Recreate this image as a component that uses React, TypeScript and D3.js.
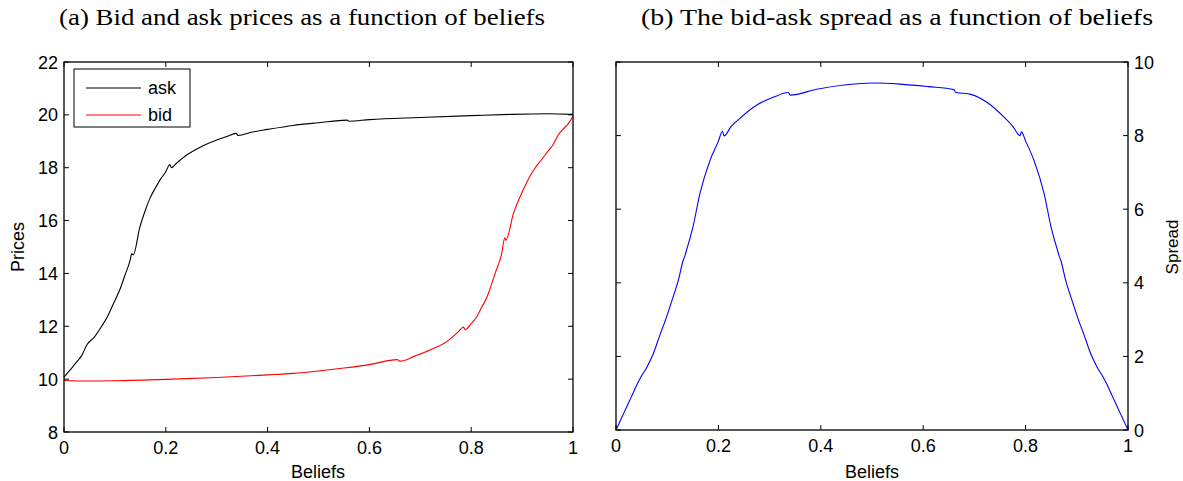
import React from "react";
import * as d3 from "d3";

const askBeliefs = [0,0.012,0.025,0.035,0.045,0.06,0.074,0.085,0.097,0.11,0.12,0.13,0.133,0.136,0.149,0.16,0.169,0.18,0.189,0.2,0.208,0.211,0.22,0.241,0.27,0.3,0.32,0.338,0.342,0.37,0.4,0.45,0.5,0.556,0.56,0.6,0.7,0.8,0.88,0.95,1.0];
const askValues = [10.08,10.35,10.65,10.9,11.3,11.6,12.0,12.35,12.85,13.4,13.95,14.5,14.75,14.7,15.75,16.4,16.85,17.25,17.55,17.85,18.12,18.0,18.15,18.48,18.8,19.05,19.18,19.3,19.22,19.35,19.45,19.6,19.7,19.8,19.76,19.82,19.9,19.97,20.02,20.04,20.02];

const bidBeliefs = [0,0.05,0.1,0.2,0.3,0.4,0.45,0.5,0.55,0.6,0.655,0.66,0.69,0.719,0.752,0.775,0.785,0.788,0.8,0.811,0.82,0.83,0.847,0.86,0.866,0.868,0.883,0.902,0.925,0.94,0.955,0.96,0.971,0.98,0.99,1.0];
const bidValues = [9.95,9.93,9.94,9.99,10.06,10.16,10.22,10.31,10.42,10.55,10.74,10.68,10.88,11.1,11.42,11.8,11.97,11.87,12.1,12.36,12.7,13.06,14.0,14.76,15.35,15.25,16.27,17.16,17.98,18.35,18.73,18.85,19.24,19.45,19.65,19.95];

const spreadBeliefs = [0,0.01,0.021,0.03,0.038,0.047,0.06,0.073,0.085,0.099,0.11,0.122,0.131,0.135,0.137,0.15,0.164,0.184,0.2,0.208,0.211,0.225,0.242,0.275,0.307,0.337,0.34,0.392,0.45,0.5,0.555,0.61,0.66,0.663,0.693,0.725,0.758,0.775,0.789,0.792,0.8,0.816,0.836,0.85,0.863,0.865,0.869,0.878,0.89,0.901,0.915,0.927,0.94,0.953,0.962,0.97,0.979,0.99,1];
const spreadValues = [0,0.3,0.63,0.9,1.15,1.4,1.7,2.08,2.55,3.08,3.55,4.08,4.6,4.75,4.85,5.5,6.43,7.34,7.85,8.12,7.99,8.25,8.47,8.83,9.04,9.17,9.1,9.26,9.38,9.43,9.4,9.33,9.25,9.18,9.12,8.9,8.5,8.25,8.0,8.1,7.85,7.34,6.43,5.5,4.85,4.75,4.6,4.08,3.55,3.08,2.55,2.08,1.7,1.4,1.15,0.9,0.63,0.3,0];

const xTicks = [0, 0.2, 0.4, 0.6, 0.8, 1];
const xTickLabels = ["0", "0.2", "0.4", "0.6", "0.8", "1"];
const priceTicks = [8, 10, 12, 14, 16, 18, 20, 22];
const spreadTicks = [0, 2, 4, 6, 8, 10];
const legendLabels = ["ask", "bid"];
const legendColors = ["#000000", "#ff0000"];

const W = 1183, H = 481;
const sans = "'Liberation Sans', Arial, sans-serif";
const serif = "'Liberation Serif', 'DejaVu Serif', serif";
const TICK = 5;

function zip(xs: number[], ys: number[]): [number, number][] {
  return xs.map((x, i) => [x, ys[i]]);
}

export default function App() {
  const xL = d3.scaleLinear().domain([0, 1]).range([64, 573]);
  const yL = d3.scaleLinear().domain([8, 22]).range([432, 62]);
  const xR = d3.scaleLinear().domain([0, 1]).range([616, 1128]);
  const yR = d3.scaleLinear().domain([0, 10]).range([430, 62]);

  const lineL = d3.line<[number, number]>().x(d => xL(d[0])).y(d => yL(d[1])).curve(d3.curveMonotoneX);
  const lineR = d3.line<[number, number]>().x(d => xR(d[0])).y(d => yR(d[1])).curve(d3.curveMonotoneX);

  const frame = (xs: d3.ScaleLinear<number, number>, ys: d3.ScaleLinear<number, number>, yt: number[], side: "left" | "right") => {
    const [x0, x1] = xs.range();
    const [y0, y1] = ys.range();
    return (
      <g>
        {xTicks.map((t, i) => (
          <g key={"xt" + i}>
            <line x1={xs(t)} x2={xs(t)} y1={y0} y2={y0 - TICK} stroke="#000" strokeWidth={1} />
            <line x1={xs(t)} x2={xs(t)} y1={y1} y2={y1 + TICK} stroke="#000" strokeWidth={1} />
            <text x={xs(t)} y={y0 + 22} textAnchor="middle" fontFamily={sans} fontSize={18}>{xTickLabels[i]}</text>
          </g>
        ))}
        {yt.map((t, i) => (
          <g key={"yt" + i}>
            <line x1={x0} x2={x0 + TICK} y1={ys(t)} y2={ys(t)} stroke="#000" strokeWidth={1} />
            <line x1={x1} x2={x1 - TICK} y1={ys(t)} y2={ys(t)} stroke="#000" strokeWidth={1} />
            {side === "left" ? (
              <text x={x0 - 6} y={ys(t) + 6.5} textAnchor="end" fontFamily={sans} fontSize={18}>{t}</text>
            ) : (
              <text x={x1 + 6} y={ys(t) + 6.5} textAnchor="start" fontFamily={sans} fontSize={18}>{t}</text>
            )}
          </g>
        ))}
        <rect x={x0} y={y1} width={x1 - x0} height={y0 - y1} fill="none" stroke="#000" strokeWidth={1.3} />
      </g>
    );
  };

  return (
    <svg width={W} height={H} style={{ position: "absolute", left: 0, top: 0, background: "#fff" }}>
      <rect x={0} y={0} width={W} height={H} fill="#fff" />
      <text x={302} y={25} textAnchor="middle" fontFamily={serif} fontSize={24} textLength={486} lengthAdjust="spacingAndGlyphs">(a) Bid and ask prices as a function of beliefs</text>
      <text x={897} y={25} textAnchor="middle" fontFamily={serif} fontSize={24} textLength={512} lengthAdjust="spacingAndGlyphs">(b) The bid-ask spread as a function of beliefs</text>

      <path d={lineL(zip(askBeliefs, askValues)) || ""} fill="none" stroke="#000" strokeWidth={1.1} />
      <path d={lineL(zip(bidBeliefs, bidValues)) || ""} fill="none" stroke="#ff0000" strokeWidth={1.1} />
      {frame(xL, yL, priceTicks, "left")}
      <text x={318} y={478} textAnchor="middle" fontFamily={sans} fontSize={18}>Beliefs</text>
      <text transform={`translate(24,247) rotate(-90)`} textAnchor="middle" fontFamily={sans} fontSize={18}>Prices</text>

      <rect x={74} y={69} width={116} height={58} fill="#fff" stroke="#000" strokeWidth={1} />
      {legendLabels.map((l, i) => (
        <g key={l}>
          <line x1={86} x2={141} y1={88 + i * 27} y2={88 + i * 27} stroke={legendColors[i]} strokeWidth={1} />
          <text x={148} y={94 + i * 27} fontFamily={sans} fontSize={18}>{l}</text>
        </g>
      ))}

      <path d={lineR(zip(spreadBeliefs, spreadValues)) || ""} fill="none" stroke="#0000ff" strokeWidth={1.1} />
      {frame(xR, yR, spreadTicks, "right")}
      <text x={872} y={478} textAnchor="middle" fontFamily={sans} fontSize={18}>Beliefs</text>
      <text transform={`translate(1178,247) rotate(-90)`} textAnchor="middle" fontFamily={sans} fontSize={17}>Spread</text>
    </svg>
  );
}
